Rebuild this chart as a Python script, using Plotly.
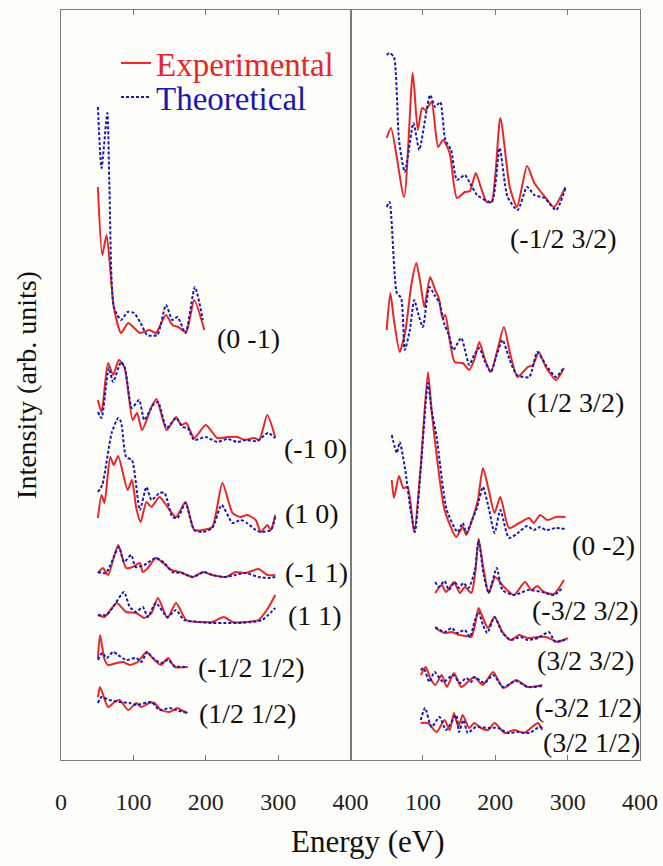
import numpy as np
import plotly.graph_objects as go

# ---------------- data (energy in eV, intensity in arb. units above each curve's baseline) ----------------
# Left panel
E_0m1_exp = [51, 57, 63, 73, 83, 93, 109, 122, 131, 145, 154, 162, 173, 184, 198]
I_0m1_exp = [149, 81, 101, 29, 3, 13, 3, 6, 3, 21, 11, 9, 4, 36, 6]
E_0m1_th = [51, 56, 64, 67, 73, 83, 92, 101, 110, 119, 133, 145, 154, 161, 172, 185, 196]
I_0m1_th = [229, 168, 223, 146, 29, 16, 24, 23, 13, 1, 1, 31, 16, 19, 3, 49, 16]

E_m10_exp = [51, 56, 65, 72, 80, 88, 99, 105, 112, 125, 132, 146, 159, 166, 173, 184, 200, 216, 230, 244, 253, 267, 274, 285, 296]
I_m10_exp = [42, 30, 79, 67, 82, 74, 22, 29, 12, 35, 43, 12, 25, 17, 19, 4, 17, 4, 5, 5, 2, 4, 2, 27, 5]
E_m10_th = [51, 56, 66, 72, 83, 88, 98, 108, 115, 127, 134, 146, 159, 168, 175, 184, 200, 216, 230, 244, 255, 271, 286, 296]
I_m10_th = [30, 24, 74, 60, 80, 75, 34, 42, 22, 37, 40, 14, 24, 15, 14, 2, 5, 0, 3, 0, 2, 1, 9, 4]

E_10_exp = [51, 56, 60, 68, 73, 79, 92, 98, 104, 110, 118, 125, 136, 150, 159, 172, 184, 196, 209, 223, 237, 248, 257, 269, 276, 285, 290, 296]
I_10_exp = [15, 38, 30, 76, 68, 77, 43, 53, 25, 11, 31, 26, 36, 23, 16, 31, 3, 3, 6, 50, 20, 16, 18, 13, 1, 8, 3, 18]
E_10_th = [51, 57, 70, 79, 83, 90, 98, 109, 118, 125, 136, 143, 154, 161, 172, 184, 196, 209, 222, 237, 248, 257, 269, 276, 290, 296]
I_10_th = [41, 48, 100, 115, 111, 76, 73, 23, 46, 33, 40, 40, 16, 15, 30, 3, 1, 5, 28, 10, 13, 10, 3, 1, 3, 16]

E_m11_exp = [51, 58, 65, 79, 90, 99, 109, 113, 120, 131, 141, 152, 164, 182, 196, 209, 228, 241, 255, 273, 285, 296]
I_m11_exp = [4, 9, 2, 32, 9, 10, 14, 5, 9, 19, 14, 7, 5, 0, 5, 2, 0, 5, 4, 8, 2, 2]
E_m11_th = [51, 62, 80, 87, 97, 103, 115, 131, 143, 154, 168, 182, 198, 209, 225, 241, 255, 273, 287, 296]
I_m11_th = [5, 4, 30, 15, 22, 10, 12, 19, 14, 5, 4, 0, 5, 2, 0, 2, 4, 0, -1, 0]

E_11_exp = [51, 60, 77, 90, 104, 115, 125, 134, 147, 159, 173, 191, 209, 225, 237, 255, 273, 287, 296]
I_11_exp = [8, 6, 20, 11, 10, 5, 10, 25, 5, 20, 3, 1, 1, 6, 1, 1, 3, 16, 28]
E_11_th = [51, 63, 72, 87, 95, 104, 113, 120, 131, 147, 159, 170, 191, 209, 228, 246, 264, 278, 296]
I_11_th = [8, 8, 16, 31, 16, 11, 16, 6, 20, 6, 13, 3, 1, 0, 0, 0, 1, 3, 15]

E_mhh_exp = [51, 54, 60, 65, 77, 86, 95, 106, 118, 129, 138, 148, 157, 175]
I_mhh_exp = [9, 32, 8, 2, 4, 5, 2, 5, 15, 7, 2, 9, 0, 0]
E_mhh_th = [51, 57, 63, 72, 79, 90, 104, 111, 119, 127, 138, 148, 157, 175]
I_mhh_th = [7, 14, 9, 15, 12, 7, 9, 5, 15, 9, 4, 7, 1, 0]

E_hh_exp = [51, 54, 65, 74, 81, 93, 104, 111, 122, 129, 138, 150, 161, 166, 175]
I_hh_exp = [17, 27, 7, 12, 14, 4, 11, 7, 11, 11, 4, 2, 6, 4, 1]
E_hh_th = [51, 56, 67, 81, 95, 104, 125, 136, 150, 159, 175]
I_hh_th = [11, 17, 14, 12, 11, 9, 12, 4, 6, 4, 1]

# Right panel
E_mh3h_exp = [50, 56, 74, 86, 93, 99, 104, 112, 121, 128, 137, 147, 158, 165, 173, 180, 188, 195, 207, 220, 230, 244, 254, 261, 270, 281, 297]
I_mh3h_exp = [74, 84, 15, 139, 82, 104, 102, 110, 65, 72, 59, 14, 20, 21, 39, 25, 10, 10, 94, 25, 5, 46, 29, 22, 14, 5, 25]
E_mh3h_th = [50, 54, 60, 67, 75, 87, 95, 110, 117, 124, 131, 139, 147, 158, 165, 175, 195, 206, 217, 231, 244, 254, 268, 284, 297]
I_mh3h_th = [157, 159, 155, 72, 40, 89, 62, 117, 105, 110, 72, 62, 32, 37, 29, 17, 10, 64, 15, 2, 25, 17, 14, 2, 24]

E_h3h_exp = [50, 55, 60, 68, 76, 84, 91, 97, 102, 110, 117, 122, 127, 131, 137, 144, 155, 164, 171, 178, 186, 194, 203, 212, 221, 231, 245, 252, 260, 270, 284, 295]
I_h3h_exp = [50, 87, 60, 28, 50, 95, 117, 95, 73, 103, 90, 82, 62, 65, 40, 18, 17, 10, 20, 38, 20, 8, 30, 53, 25, 3, 13, 15, 28, 13, 0, 12]
E_h3h_th = [50, 54, 64, 70, 75, 82, 88, 94, 100, 109, 116, 123, 130, 136, 142, 153, 164, 171, 178, 186, 194, 202, 210, 220, 230, 247, 258, 270, 284, 295]
I_h3h_th = [173, 178, 87, 82, 30, 50, 80, 65, 53, 93, 85, 77, 55, 45, 30, 42, 15, 25, 32, 18, 8, 25, 40, 20, 5, 3, 28, 15, 3, 13]

E_0m2_exp = [57, 60, 67, 73, 79, 88, 97, 107, 112, 117, 130, 146, 155, 160, 168, 176, 183, 191, 199, 207, 219, 233, 247, 253, 262, 272, 284, 297]
I_0m2_exp = [60, 42, 64, 52, 53, 8, 74, 168, 130, 97, 30, 3, 13, 5, 20, 40, 72, 50, 27, 43, 12, 17, 22, 17, 25, 20, 23, 23]
E_0m2_th = [57, 64, 68, 75, 83, 89, 97, 107, 112, 119, 133, 148, 155, 160, 168, 175, 183, 191, 199, 207, 219, 233, 244, 253, 262, 270, 284, 297]
I_0m2_th = [105, 87, 98, 73, 30, 8, 70, 157, 130, 103, 30, 8, 17, 7, 20, 33, 53, 32, 7, 30, 2, 8, 14, 10, 13, 10, 12, 11]

E_m3h3h_exp = [117, 126, 132, 143, 151, 158, 167, 172, 177, 184, 191, 200, 212, 226, 241, 250, 258, 267, 281, 295]
I_m3h3h_exp = [4, 12, 5, 15, 4, 10, 4, 22, 58, 27, 4, 20, 10, 2, 15, 7, 11, 5, 3, 17]
E_m3h3h_th = [117, 122, 130, 136, 144, 150, 156, 163, 172, 177, 184, 191, 202, 210, 226, 246, 265, 281, 294]
I_m3h3h_th = [15, 10, 16, 7, 15, 9, 14, 9, 27, 57, 22, 4, 29, 7, 2, 7, 5, 2, 10]

E_3h3h_exp = [117, 130, 140, 150, 160, 167, 172, 177, 183, 190, 199, 210, 221, 233, 245, 258, 270, 287, 300]
I_3h3h_exp = [14, 9, 10, 7, 6, 5, 17, 34, 24, 14, 25, 10, 2, 7, 4, 5, 5, 0, 4]
E_3h3h_th = [117, 130, 140, 147, 158, 165, 172, 177, 183, 189, 199, 210, 221, 235, 245, 259, 274, 283, 292, 300]
I_3h3h_th = [15, 10, 14, 9, 12, 5, 22, 30, 17, 9, 25, 9, 2, 5, 2, 4, 10, 0, 2, 2]

E_m3hh_exp = [97, 104, 110, 117, 126, 133, 143, 153, 162, 171, 183, 197, 211, 229, 245, 265]
I_m3hh_exp = [12, 20, 9, 2, 12, 0, 14, 0, 5, 10, 2, 15, -1, 7, 0, 2]
E_m3hh_th = [97, 101, 109, 116, 128, 142, 151, 160, 167, 171, 185, 197, 211, 229, 245, 265]
I_m3hh_th = [17, 19, 5, 15, 5, 12, 4, 9, 5, 10, 4, 12, 0, 6, 0, 1]

E_3hh_exp = [97, 107, 119, 130, 137, 143, 149, 155, 164, 171, 180, 190, 199, 213, 226, 240, 259, 265]
I_3hh_exp = [12, 12, 3, 15, 5, 22, 8, 20, 7, 12, 7, 5, 12, 2, 5, 2, 12, 5]
E_3hh_th = [97, 103, 112, 123, 132, 146, 150, 156, 162, 173, 190, 204, 217, 231, 247, 261, 265]
I_3hh_th = [15, 27, 8, 18, 5, 20, 3, 15, 2, 8, 7, 7, 2, 3, 2, 8, 7]

# Beam labels and vertical offsets (stacking) per panel
left_labels = ["(0 -1)", "(-1 0)", "(1 0)", "(-1 1)", "(1 1)", "(-1/2 1/2)", "(1/2 1/2)"]
left_offsets = [424, 318, 227, 183, 137, 93, 46]
right_labels = ["(-1/2 3/2)", "(1/2 3/2)", "(0 -2)", "(-3/2 3/2)", "(3/2 3/2)", "(-3/2 1/2)", "(3/2 1/2)"]
right_offsets = [548, 380, 220, 163, 118, 73, 25]

x_ticks_left = [0, 100, 200, 300, 400]
x_ticks_right = [100, 200, 300, 400]

left_curves = [
    (E_0m1_exp, I_0m1_exp, E_0m1_th, I_0m1_th),
    (E_m10_exp, I_m10_exp, E_m10_th, I_m10_th),
    (E_10_exp, I_10_exp, E_10_th, I_10_th),
    (E_m11_exp, I_m11_exp, E_m11_th, I_m11_th),
    (E_11_exp, I_11_exp, E_11_th, I_11_th),
    (E_mhh_exp, I_mhh_exp, E_mhh_th, I_mhh_th),
    (E_hh_exp, I_hh_exp, E_hh_th, I_hh_th),
]
right_curves = [
    (E_mh3h_exp, I_mh3h_exp, E_mh3h_th, I_mh3h_th),
    (E_h3h_exp, I_h3h_exp, E_h3h_th, I_h3h_th),
    (E_0m2_exp, I_0m2_exp, E_0m2_th, I_0m2_th),
    (E_m3h3h_exp, I_m3h3h_exp, E_m3h3h_th, I_m3h3h_th),
    (E_3h3h_exp, I_3h3h_exp, E_3h3h_th, I_3h3h_th),
    (E_m3hh_exp, I_m3hh_exp, E_m3hh_th, I_m3hh_th),
    (E_3hh_exp, I_3hh_exp, E_3hh_th, I_3hh_th),
]

# label anchor positions (eV, arb.) for each beam
left_label_pos = [(213, 422), (305, 312), (307, 247), (307, 188), (311, 145), (186, 93), (188, 47)]
right_label_pos = [(217, 522), (241, 358), (303, 215), (248, 150), (255, 100), (252, 53), (263, 18)]

# ---------------- figure ----------------
RED = "#e8262a"
BLUE = "#1a1aae"
SERIF = "Liberation Serif"
BG = "#fdfdf9"
FRAME = "#7a7a7a"

fig = go.Figure()
first = True
for curves, offsets, xa, ya in [(left_curves, left_offsets, "x", "y"), (right_curves, right_offsets, "x2", "y2")]:
    for (ee, ie, et, it), off in zip(curves, offsets):
        fig.add_trace(go.Scatter(
            x=ee, y=np.array(ie) + off, xaxis=xa, yaxis=ya, mode="lines",
            line=dict(color=RED, width=2, shape="spline", smoothing=0.6),
            name='<span style="color:%s">Experimental</span>' % RED,
            legend="legend", showlegend=first, hoverinfo="skip"))
        fig.add_trace(go.Scatter(
            x=et, y=np.array(it) + off, xaxis=xa, yaxis=ya, mode="lines",
            line=dict(color=BLUE, width=2, dash="3px,2px", shape="spline", smoothing=0.6),
            name='<span style="color:%s">Theoretical</span>' % BLUE,
            legend="legend2", showlegend=first, hoverinfo="skip"))
        first = False

annotations = []
for lab, (px, py) in zip(left_labels, left_label_pos):
    annotations.append(dict(x=px, y=py, xref="x", yref="y", text=lab, showarrow=False,
                            xanchor="left", yanchor="middle", font=dict(family=SERIF, size=28, color="#111")))
for lab, (px, py) in zip(right_labels, right_label_pos):
    annotations.append(dict(x=px, y=py, xref="x2", yref="y2", text=lab, showarrow=False,
                            xanchor="left", yanchor="middle", font=dict(family=SERIF, size=28, color="#111")))
annotations.append(dict(x=0.53, y=-0.109, xref="paper", yref="paper", text="Energy (eV)", showarrow=False,
                        xanchor="center", yanchor="middle", font=dict(family=SERIF, size=31, color="#111")))

split = 289.5 / 579.0
axis_common = dict(range=[0, 400], showgrid=False, zeroline=False, showline=True, linecolor=FRAME,
                   linewidth=1, mirror="ticks", ticks="inside", ticklen=5, tickcolor=FRAME,
                   ticklabelstandoff=20, automargin=False,
                   tickfont=dict(family=SERIF, size=24, color="#222"))
yaxis_common = dict(range=[0, 750], showgrid=False, zeroline=False, showline=True, linecolor=FRAME,
                    linewidth=1, mirror=True, ticks="", showticklabels=False, automargin=False)

legend_common = dict(xanchor="left", yanchor="middle", bgcolor="rgba(0,0,0,0)", borderwidth=0,
                     font=dict(family=SERIF, size=33), itemwidth=30)

fig.update_layout(
    width=663, height=866,
    margin=dict(l=61, r=23, t=10, b=106),
    paper_bgcolor=BG, plot_bgcolor=BG,
    xaxis=dict(domain=[0, split], tickvals=x_ticks_left, anchor="y", **axis_common),
    xaxis2=dict(domain=[split, 1], tickvals=x_ticks_right, anchor="y2", **axis_common),
    yaxis=dict(domain=[0, 1], anchor="x",
               title=dict(text="Intensity (arb. units)", standoff=15,
                          font=dict(family=SERIF, size=28, color="#111")), **yaxis_common),
    yaxis2=dict(domain=[0, 1], anchor="x2", **yaxis_common),
    legend=dict(x=0.095, y=(760 - 63) / 750, **legend_common),
    legend2=dict(x=0.095, y=(760 - 97) / 750, **legend_common),
    annotations=annotations,
    showlegend=True,
)

fig.write_html("out.html", config={"displayModeBar": False},
               post_script="document.body.style.margin='0';document.body.style.overflow='hidden';")
